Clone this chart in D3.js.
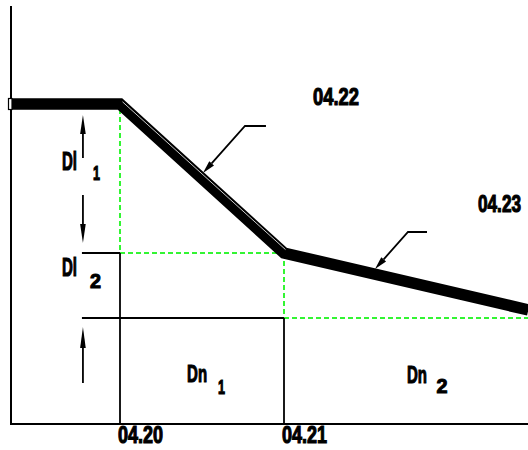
<!DOCTYPE html>
<html><head><meta charset="utf-8">
<script src="https://cdn.jsdelivr.net/npm/d3@7/dist/d3.min.js"></script>
<style>
html,body{margin:0;padding:0;background:#fff;}
text{font-family:"Liberation Sans Narrow","Arial Narrow","Liberation Sans",Arial,sans-serif;font-weight:bold;fill:#000;}
</style></head>
<body><svg id="c" width="528" height="450"></svg>
<script>
// ---- data (x in date index: 0 = 04.20, 1 = 04.21; y in level units) ----
const dateTicks = ["04.20", "04.21"];
const dateTickPos = [0, 1];
const lineX = [-0.68, 0, 1, 2.49];
const lineY = [320, 320, 171, 114];
const levels = [171, 106];            // dashed reference levels (Dl2 top, Dn base)
const extraDates = ["04.22", "04.23"];
const dlLabels = ["Dl", "Dl"];
const dlSubs = ["1", "2"];
const dnLabels = ["Dn", "Dn"];
const dnSubs = ["1", "2"];

const svg = d3.select("#c");
const x = d3.scaleLinear().domain([0, 1]).range([120, 284]);
const y = d3.scaleLinear().domain([0, 420]).range([424, 4]);
const xMin = x.invert(11), xMax = x.invert(528);

// axes
svg.append("line").attr("x1", x(xMin)).attr("x2", x(xMin)).attr("y1", 6).attr("y2", y(0))
  .attr("stroke", "#000").attr("stroke-width", 2);
svg.append("line").attr("x1", x(xMin) - 1).attr("x2", x(xMax)).attr("y1", y(0)).attr("y2", y(0))
  .attr("stroke", "#000").attr("stroke-width", 2);

// tick labels
svg.selectAll("text.tick").data(dateTicks).join("text").attr("class", "tick")
  .attr("x", (d, i) => x(dateTickPos[i]) - 2).attr("y", y(0) + 19)
  .attr("font-size", 23).attr("stroke", "#000").attr("stroke-width", 1.1)
  .attr("textLength", 45).attr("lengthAdjust", "spacingAndGlyphs").text(d => d);

// green dashed guides
const green = "#33f533";
const g = svg.append("g").attr("stroke", green).attr("stroke-width", 2).attr("stroke-dasharray", "5,3").attr("fill", "none");
g.append("line").attr("x1", x(0)).attr("x2", x(0)).attr("y1", y(lineY[1]) + 5).attr("y2", y(levels[0]));
g.append("line").attr("x1", x(0)).attr("x2", x(1)).attr("y1", y(levels[0])).attr("y2", y(levels[0]));
g.append("line").attr("x1", x(1)).attr("x2", x(1)).attr("y1", y(levels[0])).attr("y2", y(levels[1]));
g.append("line").attr("x1", x(1)).attr("x2", x(xMax)).attr("y1", y(levels[1])).attr("y2", y(levels[1]));

// black reference lines
const armX = -0.226;
const b = svg.append("g").attr("stroke", "#000").attr("stroke-width", 1.8);
b.append("line").attr("x1", x(armX) - 1).attr("x2", x(0)).attr("y1", y(levels[0])).attr("y2", y(levels[0]));
b.append("line").attr("x1", x(0)).attr("x2", x(0)).attr("y1", y(levels[0])).attr("y2", y(0));
b.append("line").attr("x1", x(armX) - 1).attr("x2", x(1)).attr("y1", y(levels[1])).attr("y2", y(levels[1]));
b.append("line").attr("x1", x(1)).attr("x2", x(1)).attr("y1", y(levels[1])).attr("y2", y(0));

// thick main line
const pts = lineX.map((d, i) => [x(d) + (i === 0 ? 1 : 0), y(lineY[i])]);
svg.append("path").attr("d", d3.line()(pts)).attr("fill", "none").attr("stroke", "#000")
  .attr("stroke-width", 11.5).attr("stroke-linejoin", "miter").attr("stroke-linecap", "butt");
// white inner stroke on diagonal
svg.append("line").attr("x1", x(0) + 2.5).attr("y1", y(lineY[1]) - 2.2)
  .attr("x2", x(1) + 1.5).attr("y2", y(lineY[2]) - 3.4).attr("stroke", "#fff").attr("stroke-width", 0.8);
// left end cap
svg.append("rect").attr("x", 8.5).attr("y", y(lineY[0]) - 5.5).attr("width", 3.5).attr("height", 11)
  .attr("fill", "#fff").attr("stroke", "#000").attr("stroke-width", 1.2);

// vertical dimension arrows
function arrow(xp, yFrom, yTo, len, half) {
  const dir = yTo < yFrom ? -1 : 1;
  svg.append("line").attr("x1", xp).attr("x2", xp).attr("y1", yFrom).attr("y2", yTo - dir * len * 0.5)
    .attr("stroke", "#000").attr("stroke-width", 1.8);
  svg.append("path").attr("d", d3.line()([[xp, yTo], [xp - half, yTo - dir * len], [xp + half, yTo - dir * len]]) + "Z")
    .attr("fill", "#000");
}
arrow(x(armX), y(266), y(309), 19, 2.8);
arrow(x(armX), y(229), y(181), 19, 2.8);
arrow(x(armX), y(41), y(97), 21, 2.8);

// leader arrows
function leader(p0, p1, tip) {
  const P0 = [x(p0[0]), y(p0[1])], P1 = [x(p1[0]), y(p1[1])], T = [x(tip[0]), y(tip[1])];
  const dx = T[0] - P1[0], dy = T[1] - P1[1], L = Math.hypot(dx, dy), ux = dx / L, uy = dy / L;
  const len = 13, hw = 3.2;
  const bx = T[0] - ux * len, by = T[1] - uy * len;
  svg.append("path").attr("d", d3.line()([P0, P1, [bx, by]])).attr("fill", "none").attr("stroke", "#000").attr("stroke-width", 1.8);
  svg.append("path").attr("d", d3.line()([T, [bx - uy * hw, by + ux * hw], [bx + uy * hw, by - ux * hw]]) + "Z").attr("fill", "#000");
}
leader([0.89, 298], [0.762, 298], [0.506, 251]);
leader([1.872, 192], [1.756, 192], [1.555, 155]);

// labels
function label(txt, px, py, size, tl) {
  const t = svg.append("text").attr("x", px).attr("y", py).attr("font-size", size)
    .attr("stroke", "#000").attr("stroke-width", 1.1).text(txt);
  if (tl) t.attr("textLength", tl).attr("lengthAdjust", "spacingAndGlyphs");
}
label(dlLabels[0], x(-0.354), y(254), 25, 15);
label(dlSubs[0], x(-0.165), y(244), 21, 7);
label(dlLabels[1], x(-0.354), y(148), 25, 15);
label(dnLabels[0], x(0.409), y(42), 24, 20);
label(dlSubs[1], x(-0.183), y(136), 21, 11);
label(dnSubs[0], x(0.598), y(30), 21, 7);
label(dnLabels[1], x(1.75), y(41), 24, 20);
label(dnSubs[1], x(1.93), y(31), 21, 11);
label(extraDates[0], x(1.177), y(319), 23, 46);
label(extraDates[1], x(2.183), y(212), 23, 43);
</script></body></html>
